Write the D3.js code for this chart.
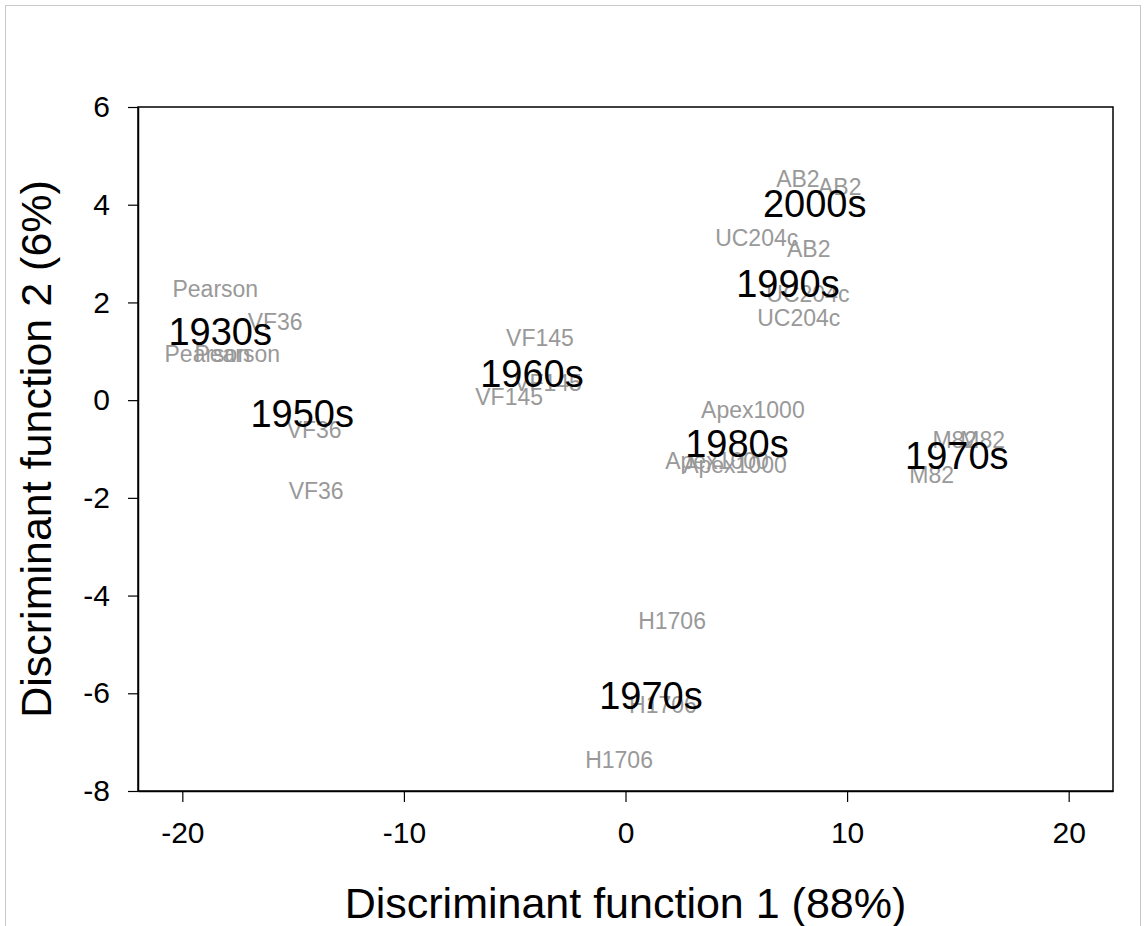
<!DOCTYPE html>
<html>
<head>
<meta charset="utf-8">
<script src="https://cdn.jsdelivr.net/npm/d3@7"></script>
<style>
  body { margin: 0; background: #fff; }
  text { font-family: "Liberation Sans", Arial, sans-serif; }
</style>
</head>
<body>
<div id="chart"></div>
<script>
const width = 1147;
const height = 926;

// cultivar scores (grey labels)
const cultivars = ["Pearson", "Pearson", "Pearson", "VF36", "VF36", "VF36",
  "VF145", "VF145", "VF145", "Apex1000", "Apex1000", "Apex1000",
  "M82", "M82", "M82", "AB2", "AB2", "AB2",
  "UC204c", "UC204c", "UC204c", "H1706", "H1706", "H1706"];
const cultivarX = [-18.51, -18.87, -17.52, -15.81, -14.05, -13.96,
  -3.86, -3.50, -5.25, 5.75, 4.13, 4.94,
  14.86, 16.12, 13.82, 7.78, 9.67, 8.27,
  5.92, 8.23, 7.82, 2.10, 1.69, -0.29];
const cultivarY = [2.28, 0.94, 0.94, 1.60, -0.61, -1.86,
  1.27, 0.35, 0.06, -0.20, -1.25, -1.33,
  -0.82, -0.82, -1.53, 4.53, 4.36, 3.09,
  3.32, 2.17, 1.68, -4.52, -6.24, -7.36];

// decade centroids (black labels)
const decades = ["1930s", "1950s", "1960s", "2000s", "1990s", "1980s", "1970s", "1970s"];
const decadeX = [-18.29, -14.59, -4.22, 8.54, 7.33, 5.03, 14.95, 1.15];
const decadeY = [1.39, -0.28, 0.54, 4.01, 2.38, -0.90, -1.14, -6.05];

const xTicks = [-20, -10, 0, 10, 20];
const yTicks = [-8, -6, -4, -2, 0, 2, 4, 6];

const margin = { top: 107, right: 34, bottom: 135, left: 138 };
const plotW = width - margin.left - margin.right;
const plotH = height - margin.top - margin.bottom;

const svg = d3.select("#chart")
    .append("svg")
    .attr("width", width)
    .attr("height", height);

// light frame around the figure
svg.append("rect")
    .attr("x", 5.5)
    .attr("y", 5.5)
    .attr("width", 1135)
    .attr("height", 940)
    .attr("fill", "none")
    .attr("stroke", "#c8c8c8")
    .attr("stroke-width", 1);

const g = svg.append("g")
    .attr("transform", `translate(${margin.left},${margin.top})`);

const x = d3.scaleLinear().domain([-22, 22]).range([0, plotW]);
const y = d3.scaleLinear().domain([-8, 6]).range([plotH, 0]);

// box
g.append("rect")
    .attr("width", plotW)
    .attr("height", plotH)
    .attr("fill", "none")
    .attr("stroke", "#000")
    .attr("stroke-width", 1.5);

const plainNum = d => String(d); // hyphen minus like the original

const xAxis = g.append("g")
    .attr("transform", `translate(0,${plotH})`)
    .call(d3.axisBottom(x).tickValues(xTicks).tickFormat(plainNum)
        .tickSize(11).tickPadding(20).tickSizeOuter(0));

const yAxis = g.append("g")
    .call(d3.axisLeft(y).tickValues(yTicks).tickFormat(plainNum)
        .tickSize(10).tickPadding(18).tickSizeOuter(0));

[xAxis, yAxis].forEach(a => {
    a.select(".domain").attr("stroke", "#000").attr("stroke-width", 1.5);
    a.selectAll(".tick line").attr("stroke", "#000").attr("stroke-width", 1.2);
    a.selectAll(".tick text")
        .attr("fill", "#000")
        .style("font-size", "30px")
        .style("font-family", "'Liberation Sans', Arial, sans-serif");
});

// cultivar labels
g.append("g")
    .selectAll("text")
    .data(cultivars.map((d, i) => ({ name: d, x: cultivarX[i], y: cultivarY[i] })))
    .join("text")
    .attr("x", d => x(d.x))
    .attr("y", d => y(d.y))
    .attr("text-anchor", "middle")
    .attr("dominant-baseline", "central")
    .attr("fill", "#999")
    .style("font-size", "23px")
    .text(d => d.name);

// decade labels
g.append("g")
    .selectAll("text")
    .data(decades.map((d, i) => ({ name: d, x: decadeX[i], y: decadeY[i] })))
    .join("text")
    .attr("x", d => x(d.x))
    .attr("y", d => y(d.y))
    .attr("text-anchor", "middle")
    .attr("dominant-baseline", "central")
    .attr("fill", "#000")
    .style("font-size", "38px")
    .text(d => d.name);

// axis titles
svg.append("text")
    .attr("x", margin.left + plotW / 2)
    .attr("y", 918)
    .attr("text-anchor", "middle")
    .attr("fill", "#000")
    .style("font-size", "43px")
    .text("Discriminant function 1 (88%)");

svg.append("text")
    .attr("transform", `translate(51,${margin.top + plotH / 2}) rotate(-90)`)
    .attr("text-anchor", "middle")
    .attr("fill", "#000")
    .style("font-size", "43px")
    .text("Discriminant function 2 (6%)");
</script>
</body>
</html>
